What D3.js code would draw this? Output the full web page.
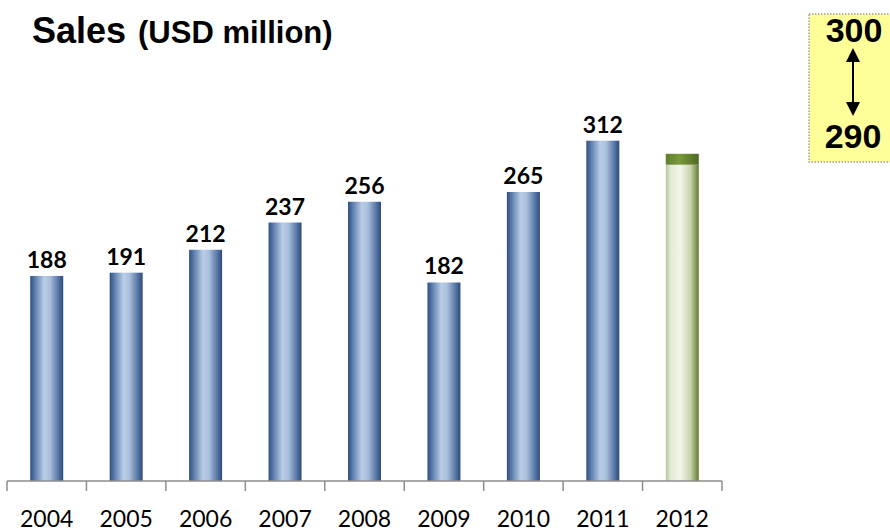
<!DOCTYPE html>
<html><head><meta charset="utf-8">
<script src="https://cdn.jsdelivr.net/npm/d3@7"></script>
<style>body{margin:0;background:#fff}svg{display:block}</style>
</head><body><svg id="c" width="890" height="531"></svg>
<script>
const years = ["2004","2005","2006","2007","2008","2009","2010","2011","2012"];
const sales = [188,191,212,237,256,182,265,312,null];
const forecastLow = 290;
const forecastHigh = 300;

const svg = d3.select("#c");
const defs = svg.append("defs");
function grad(id, stops){
  const g = defs.append("linearGradient").attr("id",id).attr("x1","0").attr("x2","1").attr("y1","0").attr("y2","0");
  stops.forEach(s=>g.append("stop").attr("offset",s[0]).attr("stop-color",s[1]));
}
grad("blue",[[0,"#2e4f82"],[0.15,"#5f7fae"],[0.42,"#b9cde6"],[0.6,"#a9bfdc"],[0.85,"#5877a6"],[1,"#2c4a7c"]]);
grad("greenTop",[[0,"#5f7d2c"],[0.4,"#7a9a3a"],[1,"#4f6a24"]]);
grad("greenLow",[[0,"#b8c49a"],[0.15,"#e4ead2"],[0.45,"#f2f5e8"],[0.75,"#c9d3ac"],[1,"#5f7a30"]]);

const x = d3.scaleBand().domain(years).range([7,722]).paddingInner(0).paddingOuter(0);
const y = d3.scaleLinear().domain([0,441]).range([481,0]);
const bw = 33;
const lblFont = "Lato, 'Open Sans', sans-serif";

const g = svg.append("g");
years.forEach((yr,i)=>{
  const cx = x(yr)+x.bandwidth()/2;
  if (sales[i]!=null){
    g.append("rect").attr("x",cx-bw/2).attr("y",y(sales[i])).attr("width",bw).attr("height",y(0)-y(sales[i])).attr("fill","url(#blue)");
    g.append("text").attr("x",cx).attr("y",y(sales[i])-8).attr("text-anchor","middle")
      .attr("font-family",lblFont).attr("font-weight","bold").attr("font-size",23).attr("fill","#000").text(sales[i]);
  } else {
    g.append("rect").attr("x",cx-bw/2).attr("y",y(forecastLow)).attr("width",bw).attr("height",y(0)-y(forecastLow)).attr("fill","url(#greenLow)");
    g.append("rect").attr("x",cx-bw/2).attr("y",y(forecastHigh)).attr("width",bw).attr("height",y(forecastLow)-y(forecastHigh)).attr("fill","url(#greenTop)");
  }
});

// axis
const ax = svg.append("g").attr("transform","translate(0,481)");
ax.append("line").attr("x1",7).attr("x2",722).attr("y1",0).attr("y2",0).attr("stroke","#8c8c8c").attr("stroke-width",1.5);
const tickPos = years.map(d=>x(d)).concat([x(years[years.length-1])+x.bandwidth()]);
tickPos.forEach(p=>ax.append("line").attr("x1",p).attr("x2",p).attr("y1",0).attr("y2",10).attr("stroke","#8c8c8c").attr("stroke-width",1.5));
years.forEach(yr=>ax.append("text").attr("x",x(yr)+x.bandwidth()/2).attr("y",46).attr("text-anchor","middle")
  .attr("font-family",lblFont).attr("font-size",23).attr("fill","#000").text(yr));

// title
const tf = "'Liberation Sans', Arial, sans-serif";
svg.append("text").attr("x",32).attr("y",43).attr("font-family",tf).attr("font-weight","bold").attr("font-size",36).attr("fill","#000").text("Sales");
svg.append("text").attr("x",138).attr("y",43).attr("font-family",tf).attr("font-weight","bold").attr("font-size",31).attr("fill","#000").text("(USD million)");

// forecast box
const bx = svg.append("g");
bx.append("rect").attr("x",809).attr("y",14).attr("width",84).attr("height",148).attr("fill","#ffff99").attr("stroke","#a0a0a0").attr("stroke-width",1.5).attr("stroke-dasharray","1.5,1.5");
bx.append("text").attr("x",854).attr("y",42).attr("text-anchor","middle").attr("font-family",tf).attr("font-weight","bold").attr("font-size",34).text(forecastHigh);
bx.append("text").attr("x",853).attr("y",148).attr("text-anchor","middle").attr("font-family",tf).attr("font-weight","bold").attr("font-size",34).text(forecastLow);
bx.append("line").attr("x1",853).attr("x2",853).attr("y1",60).attr("y2",104).attr("stroke","#000").attr("stroke-width",2);
bx.append("path").attr("d","M853,48 L846,62 L860,62 Z").attr("fill","#000");
bx.append("path").attr("d","M853,116 L846,102 L860,102 Z").attr("fill","#000");
</script></body></html>
